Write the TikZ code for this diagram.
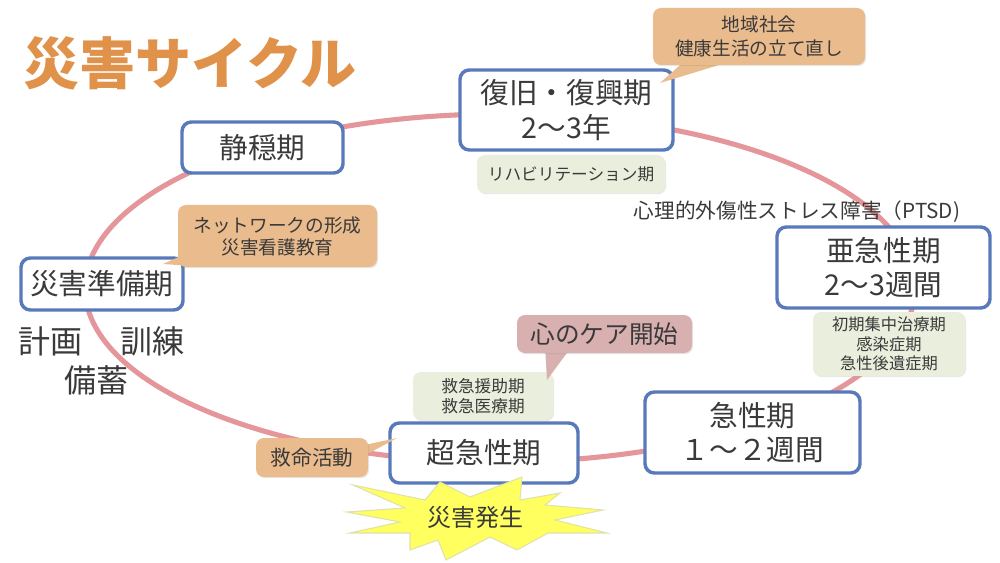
\documentclass[tikz,border=0pt]{standalone}
\usepackage{fontspec}
\setmainfont{Noto Sans CJK JP}
\usetikzlibrary{shadows}
\definecolor{ring}{RGB}{229,150,155}
\definecolor{boxblue}{RGB}{88,122,187}
\definecolor{txt}{RGB}{58,58,58}
\definecolor{orangefill}{RGB}{234,187,140}
\definecolor{pinkfill}{RGB}{216,176,176}
\definecolor{greenfill}{RGB}{234,238,221}
\definecolor{titleor}{RGB}{224,146,74}
\definecolor{burstfill}{RGB}{255,255,95}
\definecolor{burstedge}{RGB}{225,225,170}
\tikzset{
  phase/.style={draw=boxblue, line width=2.6pt, fill=white, rounded corners=7pt,
    text=txt, align=center, font=\fontsize{21.5}{26}\selectfont, inner sep=0pt},
  softshadow/.style={drop shadow={opacity=0.18, shadow xshift=0.8pt, shadow yshift=-0.9pt}},
  callout/.style={fill=orangefill, rounded corners=6pt, text=txt, align=center, inner sep=0pt},
  tailshape/.style={fill=orangefill},
  note/.style={fill=greenfill, rounded corners=6pt, text=txt, align=center, inner sep=0pt, softshadow},
  plain/.style={text=txt, inner sep=0pt},
}
\begin{document}
\begin{tikzpicture}[x=0.75pt,y=-0.75pt]
\useasboundingbox (0,0) rectangle (1000,563);
\fill[white] (0,0) rectangle (1000,563);

% title
\node[plain, text=titleor, font=\fontsize{42}{50}\selectfont\bfseries] (title) at (190,63) {災害サイクル};

% ring
\draw[ring, line width=3.8pt] (500,288) ellipse [x radius=415, y radius=174];

% phase boxes
\node[phase, minimum width=120.75pt, minimum height=38.25pt] (seion) at (262.5,147.5) {静穏期};
\node[phase, minimum width=159.75pt, minimum height=60pt] (fukkyu) at (566.5,110) {復旧・復興期\\2〜3年};
\node[phase, minimum width=121.5pt, minimum height=39pt] (junbi) at (102,284) {災害準備期};
\node[phase, minimum width=159.75pt, minimum height=60.75pt] (akyu) at (883.5,267.5) {亜急性期\\2〜3週間};
\node[phase, minimum width=161.25pt, minimum height=60.75pt] (kyusei) at (752.5,432.5) {急性期\\１〜２週間};
\node[phase, minimum width=141pt, minimum height=45pt] (chokyu) at (484,453) {超急性期};

% green notes
\node[note, minimum width=141pt, minimum height=28.5pt, font=\fontsize{12.5}{15}\selectfont] (reha) at (571,174) {リハビリテーション期};
\node[note, minimum width=105pt, minimum height=36pt, font=\fontsize{12.5}{15}\selectfont] (kyuen) at (483,396) {救急援助期\\救急医療期};
\node[note, minimum width=114pt, minimum height=48pt, font=\fontsize{12.2}{14.5}\selectfont] (shoki) at (889,344) {初期集中治療期\\感染症期\\急性後遺症期};

% callouts
\fill[tailshape] (688,58) -- (742,58) -- (660,83) -- cycle;
\node[callout, softshadow, minimum width=159pt, minimum height=42.75pt, font=\fontsize{14}{17.5}\selectfont] (chiiki) at (759,36.5) {地域社会\\健康生活の立て直し};
\fill[tailshape] (190,252) -- (192,266) -- (163,264) -- cycle;
\node[callout, softshadow, minimum width=149.25pt, minimum height=46.5pt, font=\fontsize{14}{16.5}\selectfont] (network) at (277.5,236) {ネットワークの形成\\災害看護教育};
\fill[tailshape] (360,446) -- (360,458) -- (397,438) -- cycle;
\node[callout, softshadow, minimum width=84pt, minimum height=29.25pt, font=\fontsize{15.5}{18}\selectfont] (kyumei) at (312,457.5) {救命活動};
\fill[pinkfill] (545,346) -- (572,346) -- (547,380) -- cycle;
\node[callout, fill=pinkfill, softshadow, minimum width=131.25pt, minimum height=28.5pt, font=\fontsize{18.5}{22}\selectfont] (care) at (604.5,334) {心のケア開始};

% plain labels
\node[plain, font=\fontsize{15.5}{18}\selectfont] (ptsd) at (797,212) {心理的外傷性ストレス障害（PTSD)};
\node[plain, font=\fontsize{24}{28}\selectfont] (keikaku) at (50,341) {計画};
\node[plain, font=\fontsize{24}{28}\selectfont] (kunren) at (152,341) {訓練};
\node[plain, font=\fontsize{24}{28}\selectfont] (bichiku) at (96,380) {備蓄};

% starburst
\filldraw[fill=burstfill, draw=burstedge, line width=0.8pt, line join=miter]
  (353,485) -- (425,500) -- (440,482) -- (470,497) -- (522,477) -- (520,500)
  -- (560,493) -- (545,505) -- (603,510) -- (555,520) -- (607,533) -- (548,533)
  -- (517,550) -- (490,537) -- (446,560) -- (438,540) -- (410,550) -- (410,533)
  -- (350,533) -- (400,522) -- (347,512) -- (405,508) -- cycle;
\node[plain, font=\fontsize{18}{22}\selectfont] (hassei) at (475,517) {災害発生};
\end{tikzpicture}
\end{document}
